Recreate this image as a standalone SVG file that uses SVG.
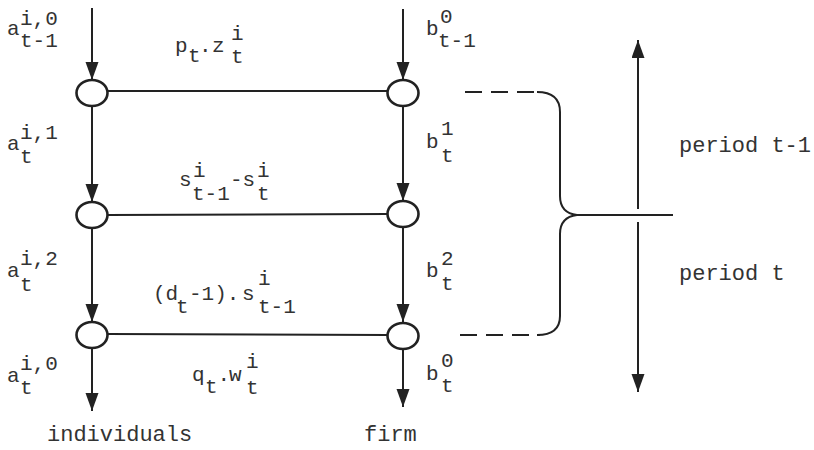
<svg xmlns="http://www.w3.org/2000/svg" width="814" height="450" viewBox="0 0 814 450">
<style>
  .ln { stroke: #222; stroke-width: 2; fill: none; }
  .dash { stroke: #222; stroke-width: 2; fill: none; stroke-dasharray: 17 9; }
  .nd { fill: #fff; stroke: #222; stroke-width: 2.6; }
  .t { font-family: "Liberation Mono", "DejaVu Sans Mono", monospace; font-size: 21px; fill: #333; }
  .w { font-family: "Liberation Mono", "DejaVu Sans Mono", monospace; font-size: 22px; fill: #333; }
</style>
<defs>
  <marker id="ah" markerUnits="userSpaceOnUse" markerWidth="20" markerHeight="14" refX="18" refY="6.5" orient="auto">
    <path d="M0,0 L18,6.5 L0,13 z" fill="#222"/>
  </marker>
</defs>
<rect width="814" height="450" fill="#fff"/>

<g id="connectors">
  <line class="ln" x1="92" y1="8" x2="92" y2="80" marker-end="url(#ah)"/>
  <line class="ln" x1="92" y1="106" x2="92" y2="202" marker-end="url(#ah)"/>
  <line class="ln" x1="92" y1="228" x2="92" y2="322" marker-end="url(#ah)"/>
  <line class="ln" x1="92" y1="348" x2="92" y2="411" marker-end="url(#ah)"/>
  <line class="ln" x1="403" y1="9" x2="403" y2="80" marker-end="url(#ah)"/>
  <line class="ln" x1="403" y1="106" x2="403" y2="201" marker-end="url(#ah)"/>
  <line class="ln" x1="403" y1="227" x2="403" y2="322" marker-end="url(#ah)"/>
  <line class="ln" x1="403" y1="349" x2="403" y2="407" marker-end="url(#ah)"/>
  <line class="ln" x1="107" y1="91" x2="388" y2="91"/>
  <line class="ln" x1="107" y1="215" x2="388" y2="214"/>
  <line class="ln" x1="107" y1="334" x2="388" y2="335"/>
  <line class="dash" x1="465" y1="92" x2="540" y2="92"/>
  <line class="dash" x1="460" y1="335" x2="540" y2="335"/>
  <path class="ln" d="M537,92 Q560,92 560,112 L560,196 Q560,213 577,215 Q560,217 560,234 L560,316 Q560,335 537,335"/>
  <line class="ln" x1="577" y1="215" x2="673" y2="215"/>
  <line class="ln" x1="638" y1="209" x2="638" y2="40" marker-end="url(#ah)"/>
  <line class="ln" x1="638" y1="222" x2="638" y2="392" marker-end="url(#ah)"/>
</g>

<g id="node-i0"><ellipse class="nd" cx="92" cy="93" rx="15.5" ry="13"/></g>
<g id="node-i1"><ellipse class="nd" cx="92" cy="215" rx="15.5" ry="13"/></g>
<g id="node-i2"><ellipse class="nd" cx="92" cy="335" rx="15.5" ry="13"/></g>
<g id="node-f0"><ellipse class="nd" cx="403" cy="93" rx="15.5" ry="13"/></g>
<g id="node-f1"><ellipse class="nd" cx="403" cy="214" rx="15.5" ry="13"/></g>
<g id="node-f2"><ellipse class="nd" cx="403" cy="336" rx="15.5" ry="13"/></g>

<g id="labels">
  <text class="t"><tspan x="7" y="35">a</tspan><tspan x="20" y="25">i,0</tspan><tspan x="20" y="47">t-1</tspan></text>
  <text class="t"><tspan x="7" y="150">a</tspan><tspan x="20" y="139">i,1</tspan><tspan x="20" y="163">t</tspan></text>
  <text class="t"><tspan x="7" y="277">a</tspan><tspan x="20" y="265">i,2</tspan><tspan x="20" y="291">t</tspan></text>
  <text class="t"><tspan x="7" y="382">a</tspan><tspan x="20" y="370">i,0</tspan><tspan x="20" y="394">t</tspan></text>

  <text class="t"><tspan x="426" y="35">b</tspan><tspan x="440" y="23">0</tspan><tspan x="438" y="47">t-1</tspan></text>
  <text class="t"><tspan x="426" y="148">b</tspan><tspan x="441" y="135">1</tspan><tspan x="441" y="162">t</tspan></text>
  <text class="t"><tspan x="426" y="277">b</tspan><tspan x="441" y="265">2</tspan><tspan x="441" y="290">t</tspan></text>
  <text class="t"><tspan x="426" y="380">b</tspan><tspan x="441" y="367">0</tspan><tspan x="441" y="392">t</tspan></text>

  <text class="t"><tspan x="175" y="52">p</tspan><tspan x="188" y="62">t</tspan><tspan x="199" y="52">.</tspan><tspan x="212" y="52">z</tspan><tspan x="231" y="40">i</tspan><tspan x="231" y="63">t</tspan></text>
  <text class="t"><tspan x="179" y="186">s</tspan><tspan x="193" y="177">i</tspan><tspan x="192" y="200">t-1</tspan><tspan x="230" y="186">-s</tspan><tspan x="257" y="177">i</tspan><tspan x="257" y="200">t</tspan></text>
  <text class="t"><tspan x="153" y="300">(d</tspan><tspan x="176" y="313">t</tspan><tspan x="189" y="300">-1).</tspan><tspan x="242" y="300">s</tspan><tspan x="258" y="285">i</tspan><tspan x="258" y="313">t-1</tspan></text>
  <text class="t"><tspan x="192" y="381">q</tspan><tspan x="205" y="393">t</tspan><tspan x="217.6" y="381">.</tspan><tspan x="229" y="381">w</tspan><tspan x="246" y="368">i</tspan><tspan x="246" y="394">t</tspan></text>

  <text class="w" x="47" y="441">individuals</text>
  <text class="w" x="364" y="441">firm</text>
  <text class="w" x="679" y="152">period t-1</text>
  <text class="w" x="679" y="280">period t</text>
</g>
</svg>
